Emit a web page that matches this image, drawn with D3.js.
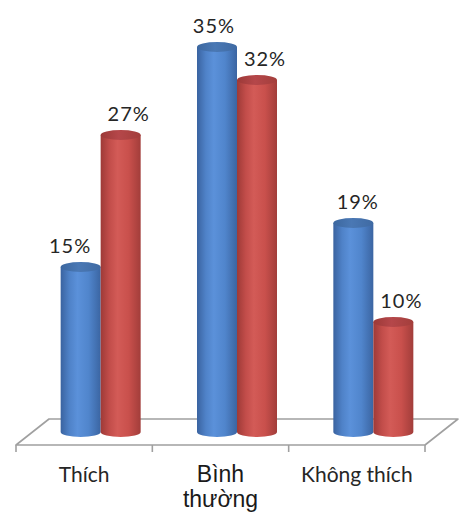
<!DOCTYPE html>
<html>
<head>
<meta charset="utf-8">
<script src="https://cdn.jsdelivr.net/npm/d3@7"></script>
<style>
  html, body { margin: 0; padding: 0; background: #ffffff; }
  svg { display: block; }
</style>
</head>
<body>
<svg id="chart" width="460" height="514"></svg>
<script>
// Survey answers per category, two groups of respondents (percent)
const categories = ["Thích", "Bình thường", "Không thích"];
const seriesNames = ["Nhóm 1", "Nhóm 2"];
const valuesGroup1 = [15, 35, 19];
const valuesGroup2 = [27, 32, 10];
const valueDomain = [0, 35];

const W = 460, H = 514;
const svg = d3.select("#chart");

// Floor plate of the 3D plot
const floorFront = 445;          // y of front floor edge
const depth = { dx: 33, dy: -26 }; // offset from front edge to back edge
const ry = 5;                     // vertical radius of cylinder caps

const x0 = d3.scaleBand().domain(categories).range([16, 425]);
const x1 = d3.scaleBand().domain(seriesNames).range([-40, 40]);
const y = d3.scaleLinear().domain(valueDomain).range([floorFront + depth.dy / 2, 47]);

const rows = categories.map((c, i) => ({
  category: c,
  bars: [
    { series: seriesNames[0], value: valuesGroup1[i] },
    { series: seriesNames[1], value: valuesGroup2[i] }
  ]
}));

// Gradients for the cylinder bodies and caps
const defs = svg.append("defs");
const palettes = {
  [seriesNames[0]]: { body: ["#3a63a0", "#4f82c8", "#5b91da", "#5085cc", "#3b65a2"], cap: ["#3c679f", "#4a78b4", "#3f6aa3"] },
  [seriesNames[1]]: { body: ["#9e3a37", "#c24d4a", "#d35b57", "#c9504c", "#a23d3a"], cap: ["#9c3937", "#b5474a", "#a33e3b"] }
};
seriesNames.forEach((s, k) => {
  const p = palettes[s];
  const g = defs.append("linearGradient").attr("id", "body" + k)
    .attr("x1", 0).attr("x2", 1).attr("y1", 0).attr("y2", 0);
  [0, 0.22, 0.42, 0.7, 1].forEach((o, j) => g.append("stop").attr("offset", o).attr("stop-color", p.body[j]));
  const c = defs.append("linearGradient").attr("id", "cap" + k)
    .attr("x1", 0).attr("x2", 1).attr("y1", 0).attr("y2", 0);
  [0, 0.45, 1].forEach((o, j) => c.append("stop").attr("offset", o).attr("stop-color", p.cap[j]));
});

// Floor
const fl = x0.range()[0], fr = x0.range()[1];
const floorPts = [
  [fl, floorFront], [fl + depth.dx, floorFront + depth.dy],
  [fr + depth.dx, floorFront + depth.dy], [fr, floorFront]
];
svg.append("path")
  .attr("d", d3.line()(floorPts) + "Z")
  .attr("fill", "#ffffff")
  .attr("stroke", "#a0a0a0")
  .attr("stroke-width", 1.6)
  .attr("stroke-linejoin", "round");

// Category ticks along the front edge
const tickXs = categories.map(c => x0(c)).concat([fr]);
svg.append("g").selectAll("line").data(tickXs).join("line")
  .attr("x1", d => d).attr("x2", d => d)
  .attr("y1", floorFront).attr("y2", floorFront + 7)
  .attr("stroke", "#a0a0a0").attr("stroke-width", 1.6);

// Cylinders, sitting half-way back on the floor
const shiftX = depth.dx / 2;
const rx = x1.bandwidth() / 2;
const y0 = y(0);

const groups = svg.append("g").selectAll("g").data(rows).join("g")
  .attr("transform", d => `translate(${x0(d.category) + x0.bandwidth() / 2 + shiftX},0)`);

const bar = groups.selectAll("g").data(d => d.bars).join("g")
  .attr("transform", d => `translate(${x1(d.series) + rx},0)`);

bar.append("path")
  .attr("d", d => {
    const yt = y(d.value);
    return `M${-rx},${yt} L${-rx},${y0} A${rx},${ry} 0 0 0 ${rx},${y0} L${rx},${yt} Z`;
  })
  .attr("fill", d => `url(#body${seriesNames.indexOf(d.series)})`);

bar.append("ellipse")
  .attr("cx", 0).attr("cy", d => y(d.value))
  .attr("rx", rx).attr("ry", ry)
  .attr("fill", d => `url(#cap${seriesNames.indexOf(d.series)})`);

// Value labels above each cylinder
bar.append("text")
  .attr("x", function (d) {
    const cx = x0(d3.select(this.parentNode.parentNode).datum().category) + x0.bandwidth() / 2 + shiftX + x1(d.series) + rx;
    return d.series === seriesNames[0] ? -15 + 0.055 * cx : 8;
  })
  .attr("y", d => y(d.value) - ry - 9)
  .attr("text-anchor", "middle")
  .attr("font-family", "Lato, 'Open Sans', sans-serif")
  .attr("font-size", 20)
  .attr("letter-spacing", 1)
  .attr("fill", "#262626")
  .text(d => d.value + "%");

// Category labels under the floor
const catLabels = svg.append("g").selectAll("text").data(categories).join("text")
  .attr("x", d => x0(d) + x0.bandwidth() / 2)
  .attr("y", 482)
  .attr("text-anchor", "middle")
  .attr("fill", "#262626");

catLabels.each(function (d, i) {
  const t = d3.select(this);
  if (i === 1) {
    t.attr("font-family", "'Liberation Sans', Arial, sans-serif").attr("font-size", 23).attr("fill", "#1a1a1a");
    d.split(" ").forEach((w, j) => {
      t.append("tspan").attr("x", x0(d) + x0.bandwidth() / 2).attr("dy", j ? 25 : 0).text(w);
    });
  } else {
    t.attr("font-family", "Lato, 'Open Sans', sans-serif").attr("font-size", 21).text(d);
  }
});
</script>
</body>
</html>
